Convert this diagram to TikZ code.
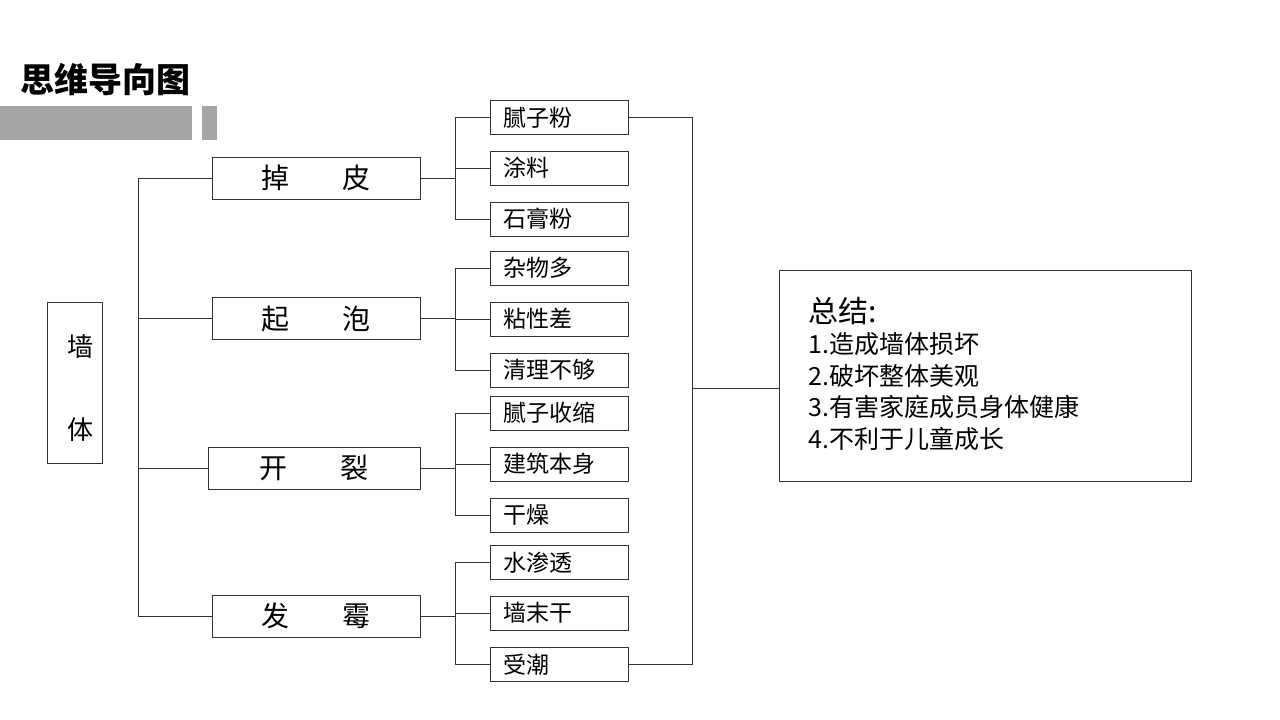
\documentclass[tikz,border=0pt]{standalone}
\usepackage{fontspec}
\setmainfont{Noto Sans CJK SC}
\begin{document}
\begin{tikzpicture}[x=1pt,y=-1pt,
  ln/.style={draw=black!80,line width=0.9pt},
  bx/.style={ln,fill=white,rectangle,inner sep=0pt},
  l1/.style={bx,minimum height=42pt,font=\fontsize{28}{28}\selectfont},
  l2/.style={bx,minimum width=138pt,minimum height=34pt,font=\fontsize{23}{23}\selectfont,text width=112pt,align=left}]
\useasboundingbox (0,0) rectangle (1280,720);
\node[anchor=west,font=\fontsize{34}{34}\selectfont\bfseries] (title) at (17,80) {思维导向图};
\fill[black!35] (0,106) rectangle (192,140);
\fill[black!35] (202,106) rectangle (217,140);
\node[bx,minimum width=55pt,minimum height=161pt] (root) at (74.5,382.5) {};
\node[font=\fontsize{26}{26}\selectfont] (q) at (80,347) {墙};
\node[font=\fontsize{26}{26}\selectfont] (t) at (80,430) {体};
\node[l1,minimum width=208pt] (a) at (316,178) {掉\hspace{1.9em}皮};
\node[l1,minimum width=208pt] (b) at (316,318.5) {起\hspace{1.9em}泡};
\node[l1,minimum width=212pt] (c) at (314,468) {开\hspace{1.9em}裂};
\node[l1,minimum width=208pt] (d) at (316,616) {发\hspace{1.9em}霉};
\draw[ln] (138,178) -- (138,616);
\foreach \n in {a,b,c,d} \draw[ln] (138,0 |- \n.west) -- (\n.west);
\foreach \n/\y/\t in {a1/117.5/腻子粉,a2/168/涂料,a3/219/石膏粉,b1/268/杂物多,b2/319/粘性差,b3/370/清理不够,c1/413/腻子收缩,c2/464/建筑本身,c3/515/干燥,d1/562.5/水渗透,d2/613/墙末干,d3/664.5/受潮}
  \node[l2] (\n) at (559,\y) {\t};
\foreach \p in {a,b,c,d}{
  \draw[ln] (\p.east) -- (455,0 |- \p.east);
  \draw[ln] (455,0 |- \p1.west) -- (455,0 |- \p3.west);
  \foreach \i in {1,2,3} \draw[ln] (455,0 |- \p\i.west) -- (\p\i.west);
}
\node[bx,minimum width=412pt,minimum height=211pt] (s) at (985,375.5) {};
\draw[ln] (a1.east) -- (692,0 |- a1.east) -- (692,0 |- d3.east) -- (d3.east);
\draw[ln] (692,388) -- (s.west |- 0,388);
\node[anchor=west,font=\fontsize{30}{30}\selectfont] (st) at (805,311) {总结:};
\node[anchor=north west,align=left,font=\fontsize{25}{31.5}\selectfont] (sl) at (805,329) {1.造成墙体损坏\\2.破坏整体美观\\3.有害家庭成员身体健康\\4.不利于儿童成长};
\end{tikzpicture}
\end{document}
